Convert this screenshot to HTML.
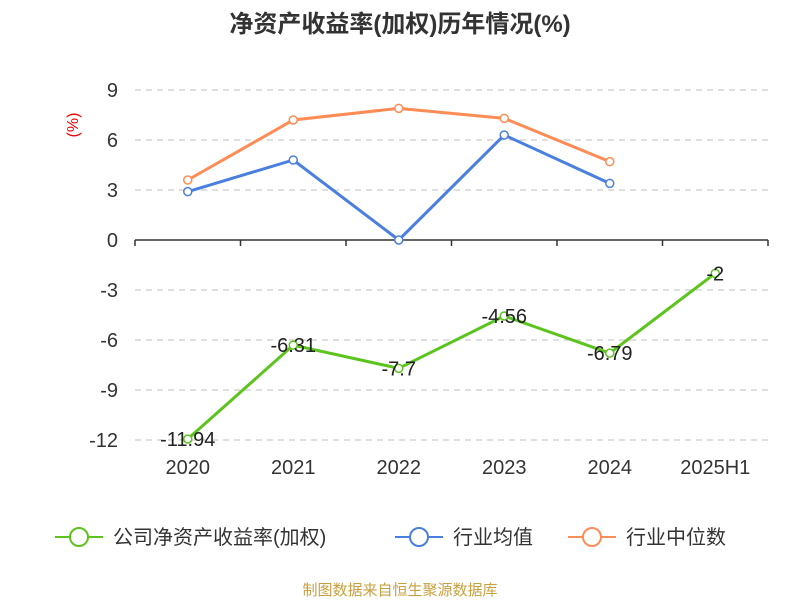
<!DOCTYPE html>
<html><head><meta charset="utf-8">
<style>
body{margin:0;background:#fff;font-family:"Liberation Sans","Noto Sans CJK SC",sans-serif;}
#wrap{position:relative;width:800px;height:600px;overflow:hidden;}
</style></head>
<body>
<div id="wrap">
<svg id="chart" width="800" height="600" xmlns="http://www.w3.org/2000/svg"></svg>
</div>
<script>
const categories=["2020","2021","2022","2023","2024","2025H1"];
const companyValues=[-11.94,-6.31,-7.7,-4.56,-6.79,-2];
const industryAvg=[2.9,4.8,0,6.3,3.4,null];
const industryMedian=[3.6,7.2,7.9,7.3,4.7,null];
const yTicks=[9,6,3,0,-3,-6,-9,-12];
const companyLabels=["-11.94","-6.31","-7.7","-4.56","-6.79","-2"];

const NS="http://www.w3.org/2000/svg";
const svgEl=document.getElementById('chart');
const plotLeft=135,plotRight=768,plotTop=90,plotBottom=440,yMax=9,yMin=-12;
const band=(plotRight-plotLeft)/categories.length;
function xPos(i){return plotLeft+band*(i+0.5);}
function yPos(v){return plotTop+(yMax-v)/(yMax-yMin)*(plotBottom-plotTop);}
function mk(tag,attrs,parent){const e=document.createElementNS(NS,tag);for(const k in attrs)e.setAttribute(k,attrs[k]);(parent||svgEl).appendChild(e);return e;}

let t=mk('text',{x:400,y:32,'text-anchor':'middle','font-size':24,'font-weight':'bold',fill:'#333'});


t.textContent='净资产收益率(加权)历年情况(%)';

t=mk('text',{x:78,y:125,'text-anchor':'middle','font-size':16,fill:'#e00',transform:'rotate(-90 78 125)'});


t.textContent='(%)';

yTicks.forEach(v=>{
  const y=yPos(v);
  if(v!==0){
    const g=mk('line',{x1:plotLeft,x2:plotRight,y1:y,y2:y,stroke:'#ccc','stroke-dasharray':'6,5','stroke-width':1.2});
    
    
  }
  const l=mk('text',{x:118,y:y+7,'text-anchor':'end','font-size':20,fill:'#333'});
  
  
  l.textContent=v;
});
const ax=mk('line',{x1:plotLeft,x2:plotRight,y1:yPos(0),y2:yPos(0),stroke:'#333','stroke-width':1.5});


for(let i=0;i<=categories.length;i++){
  const x=plotLeft+band*i;
  const tk=mk('line',{x1:x,x2:x,y1:yPos(0),y2:yPos(0)+6,stroke:'#333','stroke-width':1.5});
  
  
}
categories.forEach((c,i)=>{
  const l=mk('text',{x:xPos(i),y:474,'text-anchor':'middle','font-size':20,fill:'#333'});
  
  
  l.textContent=c;
});

function series(vals,color,name){
  let d='';
  vals.forEach((v,i)=>{if(v===null)return;d+=(d?'L':'M')+xPos(i)+','+yPos(v);});
  const p=mk('path',{d:d,fill:'none',stroke:color,'stroke-width':3});
  
  
  vals.forEach((v,i)=>{if(v===null)return;
    const c=mk('circle',{cx:xPos(i),cy:yPos(v),r:4,fill:'#fff',stroke:color,'stroke-width':1.5});
    
    
  });
}
series(industryMedian,'#ff8c55','industry-median');
series(industryAvg,'#4a7fe0','industry-average');
series(companyValues,'#5cc41d','company');
companyValues.forEach((v,i)=>{
  const l=mk('text',{x:xPos(i),y:yPos(v)+7,'text-anchor':'middle','font-size':20,fill:'#222'});
  
  
  l.textContent=companyLabels[i];
});

const legendItems=[["公司净资产收益率(加权)",'#5cc41d',55],["行业均值",'#4a7fe0',395],["行业中位数",'#ff8c55',568]];
legendItems.forEach(([txt,col,x])=>{
  const g=mk('g',{});
  
  
  mk('line',{x1:x,x2:x+48,y1:537,y2:537,stroke:col,'stroke-width':2},g);
  mk('circle',{cx:x+24,cy:537,r:9,fill:'#fff',stroke:col,'stroke-width':2},g);
  const l=mk('text',{x:x+58,y:544,'font-size':20,fill:'#333'},g);
  l.textContent=txt;
});

t=mk('text',{x:400,y:595,'text-anchor':'middle','font-size':15,fill:'#c8a040'});


t.textContent='制图数据来自恒生聚源数据库';
</script>
</body></html>
